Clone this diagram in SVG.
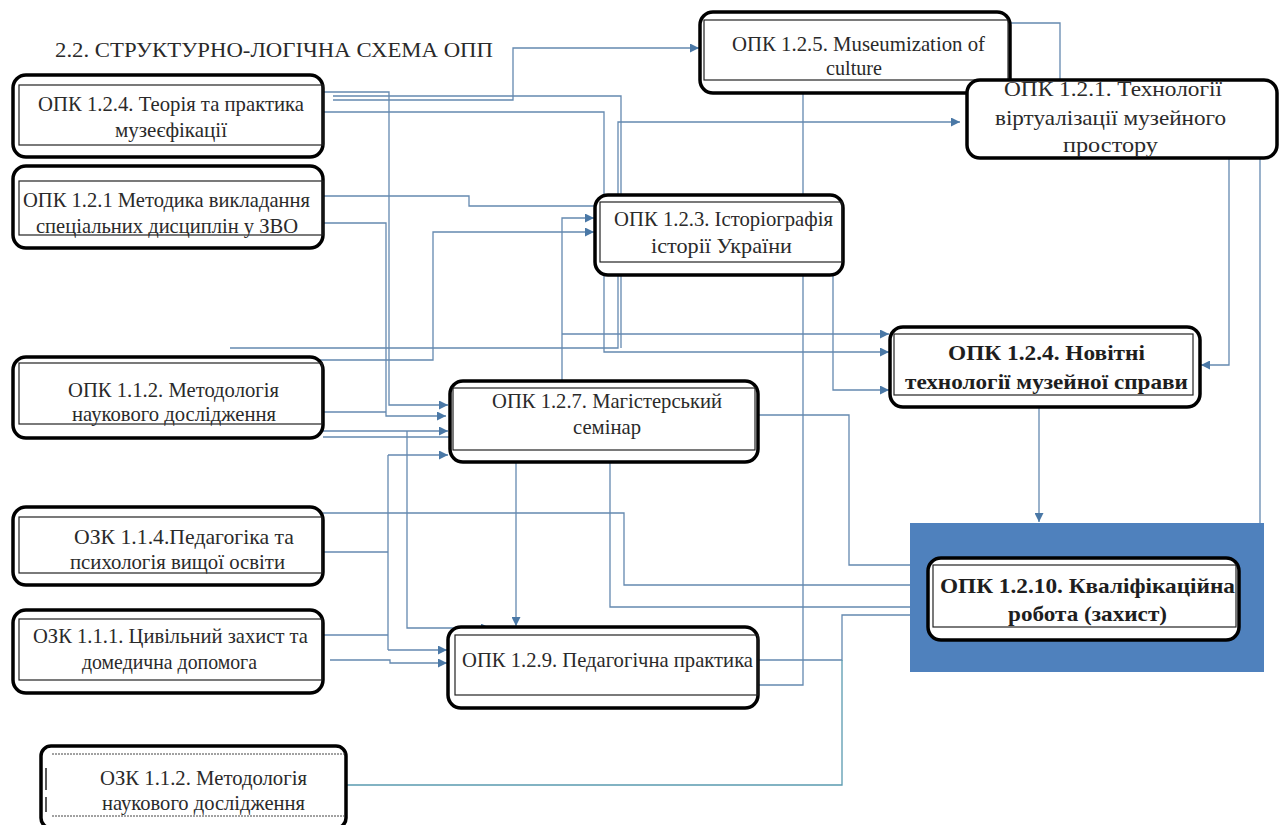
<svg xmlns="http://www.w3.org/2000/svg" width="1282" height="825" viewBox="0 0 1282 825">
<style>
.t{font-family:"Liberation Serif","Times New Roman",serif;font-size:22px;fill:#2a2a2a}
.b{font-weight:bold;fill:#1e1e1e}
.o{fill:#fff;stroke:#000;stroke-width:3.5}
.i{fill:none;stroke:#222;stroke-width:1.2}
.c{fill:none;stroke:#6489b0;stroke-width:1.3}
.a{marker-end:url(#ah)}
</style>
<defs>
<marker id="ah" viewBox="0 0 10 10" refX="10" refY="5" markerWidth="11" markerHeight="9" markerUnits="userSpaceOnUse" orient="auto"><path d="M0,0 L10,5 L0,10 z" fill="#4a78a6"/></marker>
</defs>
<rect width="1282" height="825" fill="#fff"/>
<text class="t" x="55" y="57" textLength="438" lengthAdjust="spacingAndGlyphs">2.2. СТРУКТУРНО-ЛОГІЧНА СХЕМА ОПП</text>

<g id="connectors">
<path class="c a" d="M323,92 H389 V405 H448"/>
<path class="c a" d="M333,100 H513 V48 H699"/>
<path class="c" d="M333,96 H621 V348"/>
<path class="c a" d="M323,112 H604 V352 H889"/>
<path class="c a" d="M323,196 H469 V206 H607"/>
<path class="c a" d="M323,223 H386 V416 H446"/>
<path class="c" d="M323,412 H386"/>
<path class="c a" d="M323,431 H448"/>
<path class="c a" d="M407,431 V628 H490"/>
<path class="c" d="M323,437 H610 V607 H910"/>
<path class="c a" d="M230,348 H618 V122 H960"/>
<path class="c a" d="M290,360 H433 V232 H594"/>
<path class="c a" d="M562,381 V218 H594"/>
<path class="c a" d="M562,334 H889"/>
<path class="c" d="M323,513 H624 V585 H910"/>
<path class="c" d="M323,552 H388"/>
<path class="c" d="M388,455 V650"/>
<path class="c a" d="M388,455 H448"/>
<path class="c a" d="M388,650 H447"/>
<path class="c" d="M323,635 H388"/>
<path class="c a" d="M330,660 H390 V663 H447"/>
<path class="c a" d="M516,462 V626"/>
<path class="c" d="M758,415 H849 V565 H910"/>
<path class="c a" d="M833,275 V390 H889"/>
<path class="c" d="M803,93 V685 H758"/>
<path class="c a" d="M1007,23 H1060 V86 H1113"/>
<path class="c a" d="M1229,152 V365 H1201"/>
<path class="c" d="M1229,152 H1260 V523"/>
<path class="c a" d="M1039,407 V522"/>
<path class="c" d="M758,660 H842 V615 H910"/>
<path class="c" d="M347,785 H842 V660" style="stroke:#5a9ab0"/>
</g>

<g id="n-teoria">
<rect class="o" x="13" y="75" width="310" height="82" rx="13"/>
<rect class="i" x="19" y="85" width="304" height="60"/>
<text class="t" x="38" y="111" textLength="266" lengthAdjust="spacingAndGlyphs">ОПК 1.2.4. Теорія та практика</text>
<text class="t" x="115" y="137" textLength="112" lengthAdjust="spacingAndGlyphs">музеєфікації</text>
</g>
<g id="n-metodyka">
<rect class="o" x="13" y="166" width="310" height="82" rx="13"/>
<rect class="i" x="19" y="181" width="304" height="54"/>
<text class="t" x="23" y="207" textLength="287" lengthAdjust="spacingAndGlyphs">ОПК 1.2.1 Методика викладання</text>
<text class="t" x="36" y="233" textLength="262" lengthAdjust="spacingAndGlyphs">спеціальних дисциплін у ЗВО</text>
</g>
<g id="n-metodologia">
<rect class="o" x="13" y="357" width="310" height="81" rx="13"/>
<rect class="i" x="19" y="363" width="303" height="61"/>
<text class="t" x="68" y="397" textLength="211" lengthAdjust="spacingAndGlyphs">ОПК 1.1.2. Методологія</text>
<text class="t" x="72" y="421" textLength="204" lengthAdjust="spacingAndGlyphs">наукового дослідження</text>
</g>
<g id="n-pedagogika">
<rect class="o" x="13" y="507" width="310" height="78" rx="13"/>
<rect class="i" x="19" y="517" width="303" height="56"/>
<text class="t" x="74" y="544" textLength="220" lengthAdjust="spacingAndGlyphs">ОЗК 1.1.4.Педагогіка та</text>
<text class="t" x="70" y="569" textLength="215" lengthAdjust="spacingAndGlyphs">психологія вищої освіти</text>
</g>
<g id="n-tsyvilnyi">
<rect class="o" x="13" y="610" width="310" height="83" rx="13"/>
<rect class="i" x="19" y="619" width="303" height="61"/>
<text class="t" x="33" y="643" textLength="275" lengthAdjust="spacingAndGlyphs">ОЗК 1.1.1. Цивільний захист та</text>
<text class="t" x="82" y="669" textLength="175" lengthAdjust="spacingAndGlyphs">домедична допомога</text>
</g>
<g id="n-ozk-metodologia">
<rect class="o" x="41" y="746" width="305" height="82" rx="10"/>
<path d="M52,754 H345 M52,816 H345" fill="none" stroke="#444" stroke-width="1" stroke-dasharray="2,1"/>
<path d="M46,768 V790 M46,797 V812" fill="none" stroke="#222" stroke-width="1.5"/>
<text class="t" x="100" y="785" textLength="207" lengthAdjust="spacingAndGlyphs">ОЗК 1.1.2. Методологія</text>
<text class="t" x="102" y="810" textLength="203" lengthAdjust="spacingAndGlyphs">наукового дослідження</text>
</g>
<g id="n-museumization">
<rect class="o" x="700" y="12" width="310" height="81" rx="13"/>
<rect class="i" x="704" y="20" width="304" height="60"/>
<text class="t" x="732" y="51" textLength="253" lengthAdjust="spacingAndGlyphs">ОПК 1.2.5. Museumization of</text>
<text class="t" x="826" y="75" textLength="56" lengthAdjust="spacingAndGlyphs">culture</text>
</g>
<g id="n-virtualizatsia">
<rect class="o" x="967" y="80" width="310" height="78" rx="13"/>
<text class="t" x="1004" y="96" textLength="218" lengthAdjust="spacingAndGlyphs">ОПК 1.2.1. Технології</text>
<text class="t" x="995" y="125" textLength="231" lengthAdjust="spacingAndGlyphs">віртуалізації музейного</text>
<text class="t" x="1063" y="152" textLength="95" lengthAdjust="spacingAndGlyphs">простору</text>
</g>
<g id="n-istoriografia">
<rect class="o" x="595" y="195" width="248" height="80" rx="13"/>
<rect class="i" x="600" y="202" width="242" height="60"/>
<text class="t" x="614" y="226" textLength="219" lengthAdjust="spacingAndGlyphs">ОПК 1.2.3. Історіографія</text>
<text class="t" x="651" y="253" textLength="141" lengthAdjust="spacingAndGlyphs">історії України</text>
</g>
<g id="n-novitni">
<rect class="o" x="890" y="327" width="310" height="80" rx="13"/>
<rect class="i" x="894" y="334" width="299" height="61"/>
<text class="t b" x="948" y="360" textLength="197" lengthAdjust="spacingAndGlyphs">ОПК 1.2.4. Новітні</text>
<text class="t b" x="905" y="389" textLength="283" lengthAdjust="spacingAndGlyphs">технології музейної справи</text>
</g>
<g id="n-seminar">
<rect class="o" x="450" y="381" width="308" height="81" rx="13"/>
<rect class="i" x="453" y="388" width="302" height="62"/>
<text class="t" x="492" y="408" textLength="230" lengthAdjust="spacingAndGlyphs">ОПК 1.2.7. Магістерський</text>
<text class="t" x="573" y="434" textLength="68" lengthAdjust="spacingAndGlyphs">семінар</text>
</g>
<g id="n-praktyka">
<rect class="o" x="448" y="627" width="310" height="81" rx="13"/>
<rect class="i" x="455" y="635" width="303" height="60"/>
<text class="t" x="462" y="667" textLength="291" lengthAdjust="spacingAndGlyphs">ОПК 1.2.9. Педагогічна практика</text>
</g>
<g id="n-kvalifikatsiina">
<rect x="910" y="523" width="354" height="149" fill="#4f81bd"/>
<rect class="o" x="928" y="558" width="311" height="82" rx="13"/>
<rect class="i" x="933" y="565" width="303" height="62"/>
<text class="t b" x="940" y="593" textLength="295" lengthAdjust="spacingAndGlyphs">ОПК 1.2.10. Кваліфікаційна</text>
<text class="t b" x="1008" y="621" textLength="159" lengthAdjust="spacingAndGlyphs">робота (захист)</text>
</g>
</svg>
